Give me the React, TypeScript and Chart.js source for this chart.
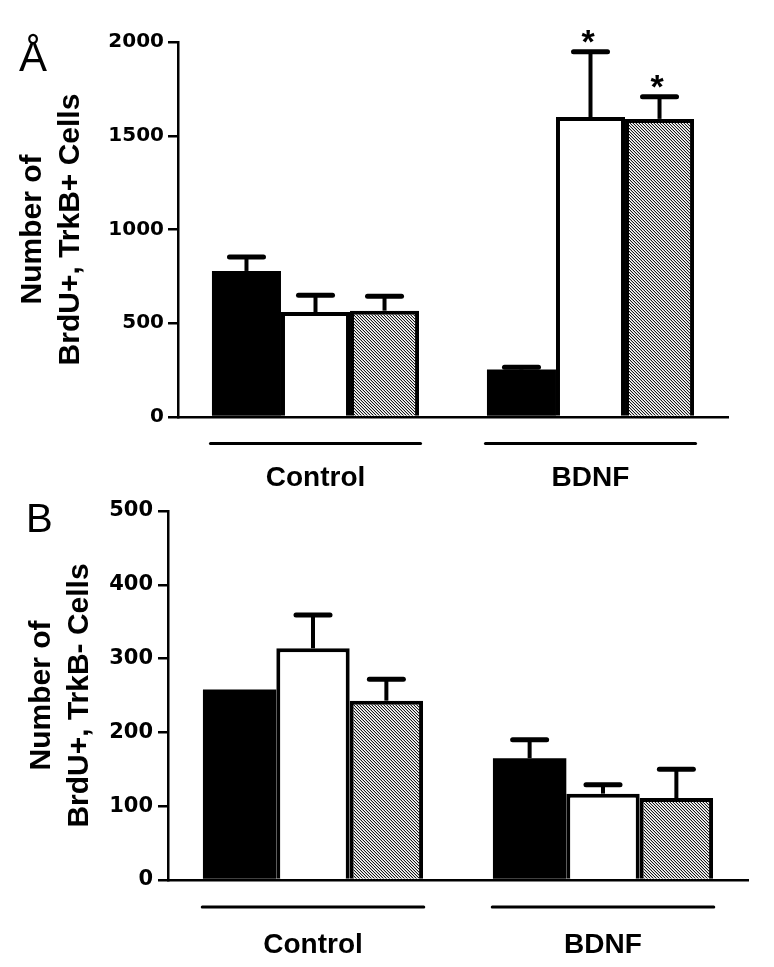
import React, { useEffect, useRef } from 'react';
import { Chart, registerables } from 'chart.js';

Chart.register(...registerables);

const FONT = "'Liberation Sans', Arial, Helvetica, sans-serif";
const TICK_FONT = "'DejaVu Sans', 'Liberation Sans', Arial, sans-serif";

// ---------- data ----------
const categories = ['Control', 'BDNF'];
const seriesNames = ['Black', 'White', 'Hatched'];

const yTitleA = ['Number of', 'BrdU+, TrkB+ Cells'];
const yTitleB = ['Number of', 'BrdU+, TrkB- Cells'];
const yTicksA = [0, 500, 1000, 1500, 2000];
const yTicksB = [0, 100, 200, 300, 400, 500];

// Panel A
const aBlack = [779, 253];
const aBlackErr = [75, 12];
const aWhite = [560, 1600];
const aWhiteErr = [90, 348];
const aHatched = [567, 1590];
const aHatchedErr = [77, 118];
const aBlackSig = [false, false];
const aWhiteSig = [false, true];
const aHatchedSig = [false, true];

// Panel B
const bBlack = [258, 165];
const bBlackErr: (number | null)[] = [null, 25];
const bWhite = [314, 117];
const bWhiteErr = [45, 12];
const bHatched = [243, 111];
const bHatchedErr = [29, 39];
const bBlackSig = [false, false];
const bWhiteSig = [false, false];
const bHatchedSig = [false, false];

// ---------- helpers ----------
function makeHatch(ctxSrc: CanvasRenderingContext2D): CanvasPattern | string {
  const c = document.createElement('canvas');
  c.width = 3;
  c.height = 3;
  const ctx = c.getContext('2d');
  if (!ctx) return '#999';
  const img = ctx.createImageData(3, 3);
  for (let y = 0; y < 3; y++) {
    for (let x = 0; x < 3; x++) {
      const k = (((x - y) % 3) + 3) % 3;
      const v = k === 0 ? 25 : k === 1 ? 255 : 190;
      const i = (y * 3 + x) * 4;
      img.data[i] = v;
      img.data[i + 1] = v;
      img.data[i + 2] = v;
      img.data[i + 3] = 255;
    }
  }
  ctx.putImageData(img, 0, 0);
  return ctxSrc.createPattern(c, 'repeat') || '#999';
}

interface PanelProps {
  top: number;
  width: number;
  height: number;
  series: number[][];
  errors: (number | null)[][];
  sig: boolean[][];
  yTicks: number[];
  yTitle: string[];
  letter: string;
  letterX: number;
  letterBaseline: number;
  letterSize: number;
  padTop: number;
  padRight: number;
  yAxisWidth: number;
  xAxisHeight: number;
  titlePad: number;
  catPct: number;
  xLabelPad: number;
  groupLineOffset: number;
  groupLineRatio: number;
  tickPad: number;
  tickSize: number;
}

function Panel(p: PanelProps) {
  const ref = useRef<HTMLCanvasElement>(null);

  useEffect(() => {
    const canvas = ref.current;
    if (!canvas) return;
    const ctx0 = canvas.getContext('2d') as CanvasRenderingContext2D;
    const hatch = makeHatch(ctx0);
    const fills: any[] = ['#000000', '#ffffff', hatch];

    const errorBars = {
      id: 'errorBars',
      afterDatasetsDraw(chart: any) {
        const { ctx } = chart;
        const ys = chart.scales.y;
        ctx.save();
        ctx.strokeStyle = '#000';
        ctx.fillStyle = '#000';
        chart.data.datasets.forEach((ds: any, i: number) => {
          const meta = chart.getDatasetMeta(i);
          meta.data.forEach((el: any, j: number) => {
            const e = p.errors[i][j];
            if (e == null) return;
            const v = ds.data[j] as number;
            const yTop = ys.getPixelForValue(v + e);
            ctx.lineCap = 'butt';
            ctx.lineWidth = 4;
            ctx.beginPath();
            ctx.moveTo(el.x, el.y);
            ctx.lineTo(el.x, yTop);
            ctx.stroke();
            ctx.lineCap = 'round';
            ctx.lineWidth = 5;
            ctx.beginPath();
            ctx.moveTo(el.x - 17, yTop);
            ctx.lineTo(el.x + 17, yTop);
            ctx.stroke();
            if (p.sig[i][j]) {
              ctx.font = `bold 34px ${FONT}`;
              ctx.textAlign = 'center';
              ctx.textBaseline = 'alphabetic';
              ctx.fillText('*', el.x - 2.5, yTop + 1);
            }
          });
        });
        ctx.restore();
      },
    };

    const groupLines = {
      id: 'groupLines',
      afterDraw(chart: any) {
        const { ctx, chartArea } = chart;
        const xs = chart.scales.x;
        const catW = (chartArea.right - chartArea.left) / categories.length;
        ctx.save();
        ctx.strokeStyle = '#000';
        ctx.lineWidth = 3;
        ctx.lineCap = 'round';
        categories.forEach((_c, i) => {
          const cx = xs.getPixelForValue(i);
          const y = chartArea.bottom + p.groupLineOffset;
          ctx.beginPath();
          ctx.moveTo(cx - catW * p.groupLineRatio, y);
          ctx.lineTo(cx + catW * p.groupLineRatio, y);
          ctx.stroke();
        });
        ctx.font = `normal ${p.letterSize}px ${FONT}`;
        ctx.fillStyle = '#000';
        ctx.textAlign = 'left';
        ctx.textBaseline = 'alphabetic';
        ctx.fillText(p.letter, p.letterX, p.letterBaseline);
        ctx.restore();
      },
    };

    const chart = new Chart(canvas, {
      type: 'bar',
      data: {
        labels: categories,
        datasets: p.series.map((vals, i) => ({
          label: seriesNames[i],
          data: vals,
          backgroundColor: fills[i],
          borderColor: '#000000',
          borderWidth: i === 0 ? 0 : 4,
          borderSkipped: 'start',
          categoryPercentage: p.catPct,
          barPercentage: 1,
        })),
      },
      options: {
        responsive: false,
        animation: false,
        devicePixelRatio: 1,
        layout: { padding: { top: p.padTop, right: p.padRight, left: 0, bottom: 0 } },
        plugins: {
          legend: { display: false },
          tooltip: { enabled: false },
        },
        scales: {
          x: {
            type: 'category',
            offset: true,
            grid: { display: false },
            border: { display: true, color: '#000', width: 2.5 },
            ticks: {
              color: '#000',
              font: { family: FONT, size: 28, weight: 'bold' },
              padding: p.xLabelPad,
              maxRotation: 0,
              autoSkip: false,
            },
            afterFit: (s: any) => {
              s.height = p.xAxisHeight;
            },
          },
          y: {
            min: p.yTicks[0],
            max: p.yTicks[p.yTicks.length - 1],
            afterBuildTicks: (s: any) => {
              s.ticks = p.yTicks.map((v) => ({ value: v }));
            },
            ticks: {
              color: '#000',
              font: { family: TICK_FONT, size: p.tickSize, weight: 'bold' },
              padding: p.tickPad,
              callback: (v: any) => String(v),
            },
            grid: {
              drawOnChartArea: false,
              drawTicks: true,
              tickLength: 10,
              color: '#000',
              lineWidth: 2.5,
            },
            border: { display: true, color: '#000', width: 2.5 },
            title: {
              display: true,
              text: p.yTitle,
              color: '#000',
              font: { family: FONT, size: 30, weight: 'bold', lineHeight: 1.25 },
              padding: { top: p.titlePad, bottom: 0 },
            },
            afterFit: (s: any) => {
              s.width = p.yAxisWidth;
            },
          },
        },
      } as any,
      plugins: [errorBars, groupLines],
    });
    return () => chart.destroy();
  }, []);

  return (
    <canvas
      ref={ref}
      width={p.width}
      height={p.height}
      style={{ position: 'absolute', left: 0, top: p.top, width: p.width, height: p.height }}
    />
  );
}

export default function App() {
  return (
    <div style={{ position: 'absolute', left: 0, top: 0, width: 774, height: 967, background: '#fff' }}>
      <Panel
        top={0}
        width={774}
        height={492}
        series={[aBlack, aWhite, aHatched]}
        errors={[aBlackErr, aWhiteErr, aHatchedErr]}
        sig={[aBlackSig, aWhiteSig, aHatchedSig]}
        yTicks={yTicksA}
        yTitle={yTitleA}
        letter="Å"
        letterX={19}
        letterBaseline={71}
        letterSize={42}
        padTop={42}
        padRight={46}
        yAxisWidth={178}
        xAxisHeight={75}
        titlePad={14}
        catPct={0.753}
        xLabelPad={36}
        groupLineOffset={26.5}
        groupLineRatio={0.382}
        tickPad={4}
        tickSize={20}
      />
      <Panel
        top={492}
        width={774}
        height={475}
        series={[bBlack, bWhite, bHatched]}
        errors={[bBlackErr, bWhiteErr, bHatchedErr]}
        sig={[bBlackSig, bWhiteSig, bHatchedSig]}
        yTicks={yTicksB}
        yTitle={yTitleB}
        letter="B"
        letterX={26}
        letterBaseline={40}
        letterSize={40}
        padTop={19}
        padRight={26}
        yAxisWidth={168}
        xAxisHeight={87}
        titlePad={23}
        catPct={0.759}
        xLabelPad={40.5}
        groupLineOffset={27}
        groupLineRatio={0.382}
        tickPad={5}
        tickSize={21}
      />
    </div>
  );
}
